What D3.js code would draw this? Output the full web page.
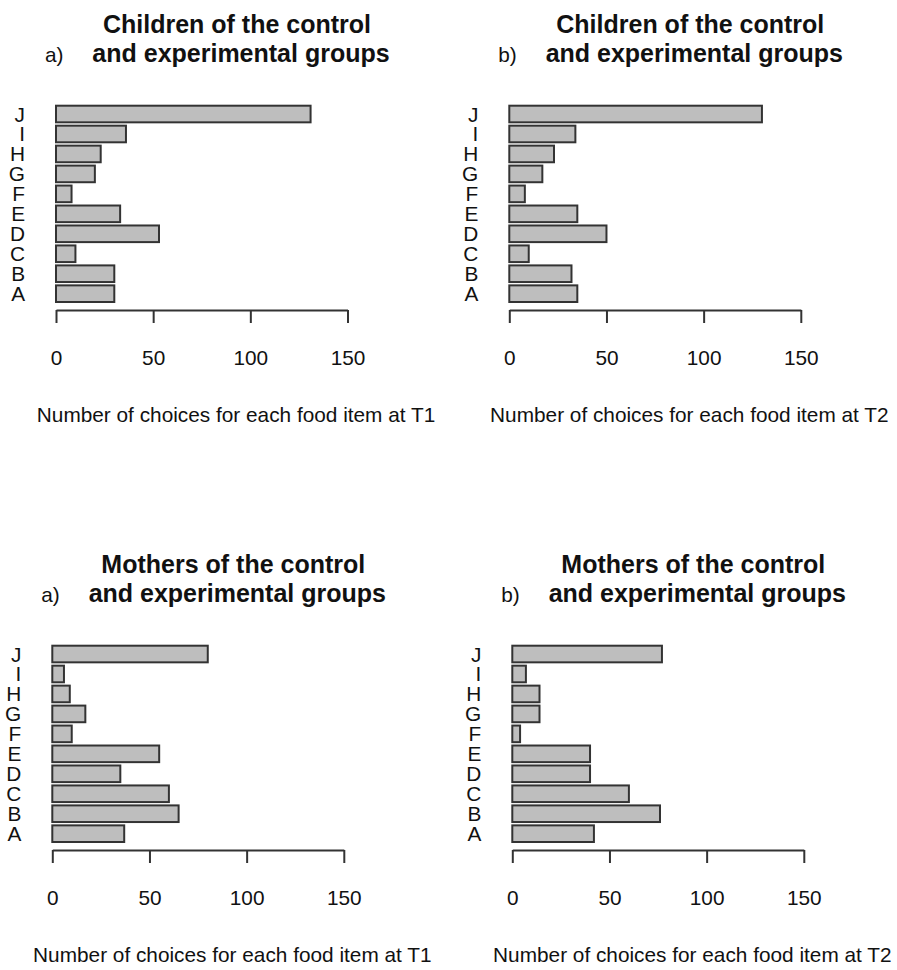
<!DOCTYPE html>
<html lang="en">
<head>
<meta charset="UTF-8">
<title>Food choices</title>
<style>
  body { margin: 0; background: #fff; }
  text { font-family: "Liberation Sans", Arial, Helvetica, sans-serif; fill: #111; }
</style>
</head>
<body>
<div id="chart"></div>
<script src="https://d3js.org/d3.v7.min.js"></script>
<script>
// food items, bottom to top as in the original barplot
var items = ["A", "B", "C", "D", "E", "F", "G", "H", "I", "J"];
var childrenT1 = [30, 30, 10, 53, 33, 8, 20, 23, 36, 131];
var childrenT2 = [35, 32, 10, 50, 35, 8, 17, 23, 34, 130];
var mothersT1 = [37, 65, 60, 35, 55, 10, 17, 9, 6, 80];
var mothersT2 = [42, 76, 60, 40, 40, 4, 14, 14, 7, 77];
var xTicks = [0, 50, 100, 150];

var panels = [
  {tag: "a)", who: "Children", values: childrenT1, time: "T1", x0: 56,    y0: 310},
  {tag: "b)", who: "Children", values: childrenT2, time: "T2", x0: 509.3, y0: 310},
  {tag: "a)", who: "Mothers",  values: mothersT1,  time: "T1", x0: 52.3,  y0: 850},
  {tag: "b)", who: "Mothers",  values: mothersT2,  time: "T2", x0: 512.3, y0: 850}
];

var svg = d3.select("#chart").append("svg")
    .attr("width", 897)
    .attr("height", 970);

var axisW = 291.5;

panels.forEach(function (p) {
  var g = svg.append("g").attr("transform", "translate(" + p.x0 + "," + p.y0 + ")");

  var x = d3.scaleLinear().domain([0, 150]).range([0, axisW]);
  var y = d3.scaleBand().domain(items.slice().reverse())
      .range([-204.3, -8])
      .paddingInner(1 / 6).paddingOuter(0);

  var data = items.map(function (d, i) { return {item: d, value: p.values[i]}; });

  // bars
  g.selectAll("rect").data(data).enter()
    .append("rect")
    .attr("x", x(0))
    .attr("y", function (d) { return y(d.item); })
    .attr("width", function (d) { return x(d.value) - x(0); })
    .attr("height", y.bandwidth())
    .attr("fill", "#bebebe")
    .attr("stroke", "#333")
    .attr("stroke-width", 2);

  // item names
  g.selectAll(".lab").data(data).enter()
    .append("text")
    .attr("class", "lab")
    .attr("x", -31)
    .attr("y", function (d) { return y(d.item) + y.bandwidth() / 2 + 7.5; })
    .attr("text-anchor", "end")
    .style("font-size", "20.8px")
    .text(function (d) { return d.item; });

  // x axis
  var ax = g.append("g")
    .call(d3.axisBottom(x).tickValues(xTicks).tickSize(13).tickSizeOuter(0));
  ax.select(".domain").attr("stroke", "#333").attr("stroke-width", 2);
  ax.selectAll(".tick line").attr("stroke", "#333").attr("stroke-width", 2);
  ax.selectAll(".tick text")
    .attr("y", 55).attr("dy", null)
    .style("font-size", "20.8px")
    .style("font-family", "'Liberation Sans', Arial, sans-serif")
    .attr("fill", "#111");

  g.append("text")
    .attr("x", 180).attr("y", 111.5)
    .attr("text-anchor", "middle")
    .style("font-size", "20.8px")
    .text("Number of choices for each food item at " + p.time);

  // titles
  g.append("text")
    .attr("x", 181).attr("y", -277)
    .attr("text-anchor", "middle")
    .style("font-size", "25px").style("font-weight", "bold")
    .text(p.who + " of the control");
  g.append("text")
    .attr("x", 185).attr("y", -248)
    .attr("text-anchor", "middle")
    .style("font-size", "25px").style("font-weight", "bold")
    .text("and experimental groups");
  g.append("text")
    .attr("x", -11).attr("y", -248)
    .style("font-size", "20.8px")
    .text(p.tag);
});
</script>
</body>
</html>
